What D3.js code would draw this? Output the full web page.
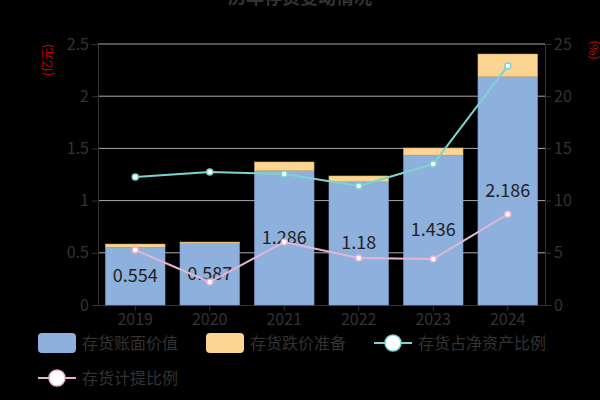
<!DOCTYPE html><html><head><meta charset="utf-8"><script src="https://cdn.jsdelivr.net/npm/d3@7"></script>
<style>body{margin:0;background:#000}</style></head><body><svg id="c" width="600" height="400"></svg><script>
const years=["2019","2020","2021","2022","2023","2024"];
const bookValue=[0.554,0.587,1.286,1.18,1.436,2.186];
const reserve=[0.030,0.016,0.084,0.056,0.068,0.218];
const ratioNetAssets=[12.26,12.74,12.55,11.4,13.5,22.9];
const provisionRatio=[5.27,2.2,6.03,4.5,4.4,8.7];
const leftTicks=[0,0.5,1,1.5,2,2.5], rightTicks=[0,5,10,15,20,25];
const svg=d3.select("#c"),F="'Noto Sans CJK SC','Noto Sans',sans-serif",tc="#333";
svg.append("rect").attr("width",600).attr("height",400).attr("fill","#000");
const L=98,R=545,T=44,B=305;
const x=d3.scaleBand().domain(years).range([L,R]).paddingInner(0.2).paddingOuter(0.1);
const x0=d3.scaleBand().domain(years).range([L,R]);
const y=d3.scaleLinear().domain([0,2.5]).range([B,T]);
const y2=d3.scaleLinear().domain([0,25]).range([B,T]);
svg.append("text").attr("x",300).attr("y",4).attr("text-anchor","middle").attr("fill","#333").attr("font-size",18).attr("font-weight","bold").attr("font-family",F).text("历年存货变动情况");
svg.append("g").selectAll("line").data(leftTicks.slice(1)).join("line").attr("x1",L).attr("x2",R).attr("y1",d=>y(d)).attr("y2",d=>y(d)).attr("stroke","#aaa");
const ga=svg.append("g").attr("transform",`translate(${L},0)`).call(d3.axisLeft(y).tickValues(leftTicks).tickFormat(d3.format("")));
const gb=svg.append("g").attr("transform",`translate(${R},0)`).call(d3.axisRight(y2).tickValues(rightTicks));
const gx=svg.append("g").attr("transform",`translate(0,${B})`).call(d3.axisBottom(x0).tickSizeOuter(0));
[ga,gb,gx].forEach(g=>{g.selectAll("path,line").attr("stroke",tc);g.selectAll("text").attr("fill",tc).attr("font-size",16).attr("font-family",F);});
svg.append("text").attr("transform","translate(52,60) rotate(-90)").attr("text-anchor","middle").attr("fill","#c00").attr("font-size",12).attr("font-family",F).text("(亿元)");
svg.append("text").attr("transform","translate(598,50) rotate(-90)").attr("text-anchor","middle").attr("fill","#c00").attr("font-size",12).attr("font-family",F).text("(%)");
const blue="#8eb0dc",orange="#fdd592",teal="#7dd3d1",pink="#e3b5d4";
svg.append("g").selectAll("rect").data(years).join("rect").attr("x",d=>x(d)).attr("width",x.bandwidth()).attr("y",(d,i)=>y(bookValue[i])).attr("height",(d,i)=>B-y(bookValue[i])).attr("fill",blue).attr("stroke","#7a9cc8").attr("stroke-width",0.5);
svg.append("g").selectAll("rect").data(years).join("rect").attr("x",d=>x(d)).attr("width",x.bandwidth()).attr("y",(d,i)=>y(bookValue[i]+reserve[i])).attr("height",(d,i)=>y(bookValue[i])-y(bookValue[i]+reserve[i])).attr("fill",orange).attr("stroke","#c9a870").attr("stroke-width",0.5);
svg.append("g").selectAll("text").data(years).join("text").attr("x",d=>x0(d)+x0.bandwidth()/2).attr("y",(d,i)=>(B+y(bookValue[i]))/2+6).attr("text-anchor","middle").attr("fill","#222").attr("font-size",18).attr("font-family",F).text((d,i)=>bookValue[i]);
function line(data,c){const cx=d=>x0(d)+x0.bandwidth()/2;
svg.append("path").datum(years).attr("d",d3.line().x(cx).y((d,i)=>y2(data[i]))).attr("fill","none").attr("stroke",c).attr("stroke-width",2);
svg.append("g").selectAll("circle").data(years).join("circle").attr("cx",cx).attr("cy",(d,i)=>y2(data[i])).attr("r",3).attr("fill","#fff").attr("stroke",c).attr("stroke-width",1.5);}
line(ratioNetAssets,teal);line(provisionRatio,pink);
const lg=svg.append("g").attr("font-family",F).attr("font-size",16);
function item(x0_,y0,label,kind,c){
 if(kind==="rect")lg.append("rect").attr("x",x0_).attr("y",y0-10).attr("width",38).attr("height",20).attr("rx",4).attr("fill",c);
 else{lg.append("line").attr("x1",x0_).attr("x2",x0_+38).attr("y1",y0).attr("y2",y0).attr("stroke",c).attr("stroke-width",2);lg.append("circle").attr("cx",x0_+19).attr("cy",y0).attr("r",8).attr("fill","#fff").attr("stroke",c).attr("stroke-width",1.5);}
 lg.append("text").attr("x",x0_+44).attr("y",y0+6).attr("fill",tc).text(label);}
item(38,343,"存货账面价值","rect",blue);
item(206,343,"存货跌价准备","rect",orange);
item(374,343,"存货占净资产比例","line",teal);
item(38,378,"存货计提比例","line",pink);
</script></body></html>
